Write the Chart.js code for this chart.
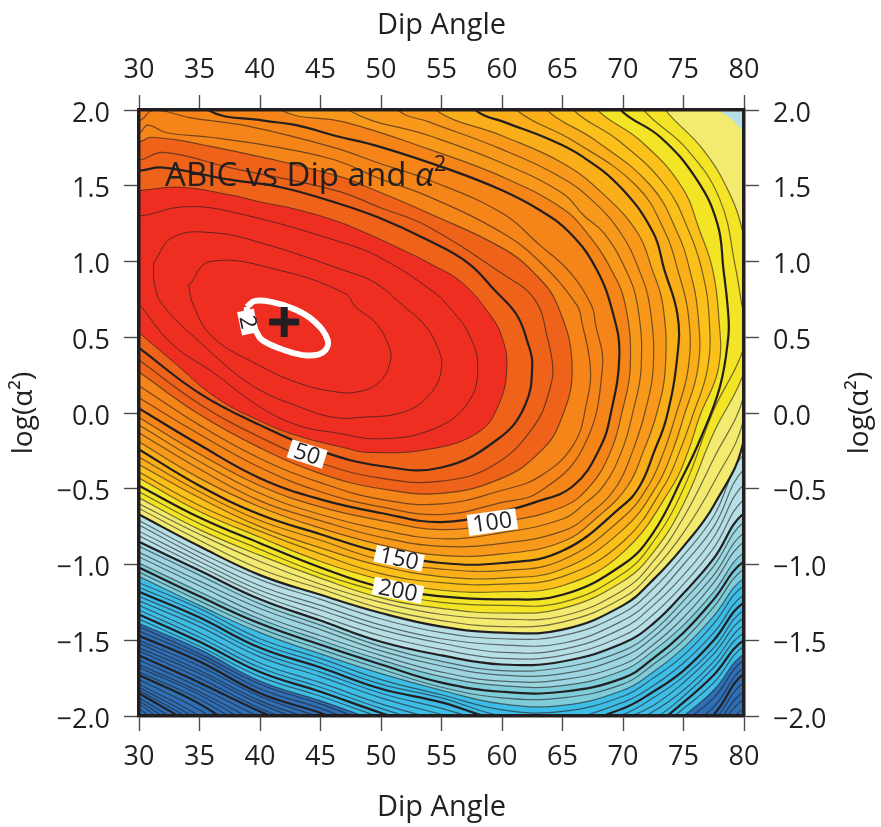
<!DOCTYPE html>
<html>
<head>
<meta charset="utf-8">
<title>ABIC vs Dip and alpha^2</title>
<script src="https://cdn.jsdelivr.net/npm/chart.js@4/dist/chart.umd.min.js"></script>
<style>
  html, body { margin: 0; padding: 0; background: #fff; }
  canvas { display: block; }
</style>
</head>
<body>
<canvas id="abicChart" width="881" height="827"></canvas>
<script>
// Curvas: ABIC cada 10, gruesas cada 50
const xTicks = [30, 35, 40, 45, 50, 55, 60, 65, 70, 75, 80];
const yTicks = [-2, -1.5, -1, -0.5, 0, 0.5, 1, 1.5, 2];
const minimum = [[42, 0.6]];

// curvas cerradas o abiertas hacia arriba/izquierda: pares [dip, log(a2)]
const c2 = [[38.9,.7],[39.6,.74],[41.1,.73],[42.7,.69],[44.4,.61],[45.6,.48],[45.2,.4],[43.9,.38],[42.2,.41],[40.2,.48],[39.6,.55],[39,.63],[38.9,.7]];
const c10 = [[34.1,.84],[35.9,1],[41.7,.94],[47,.79],[47.9,.7],[49.5,.6],[50.7,.43],[50.7,.32],[49.8,.2],[48.1,.14],[46.2,.14],[43.1,.2],[39.8,.32],[36.1,.5],[34.5,.71],[34.1,.84]];
const c20 = [[31.2,.99],[32.8,1.16],[36.1,1.19],[40.2,1.12],[47,.94],[49.5,.86],[51.8,.71],[53.6,.58],[54.7,.43],[55,.3],[54.2,.14],[52,.01],[48.1,-.03],[46.2,-.03],[43.6,.03],[39.4,.18],[35,.47],[32,.71],[31.3,.84],[31.2,.99]];
const c30 = [[30,.72],[32.8,.45],[36.1,.27],[39.8,.05],[43.1,-.08],[46.2,-.13],[50.1,-.17],[54.5,-.1],[57.2,.07],[58,.3],[57.2,.53],[55.5,.71],[54.5,.79],[50.3,1.01],[47,1.12],[37.5,1.33],[33.6,1.36],[30,1.3]];
const c40 = [[30,.53],[32.8,.34],[36.4,.1],[40.2,-.06],[43.1,-.15],[47,-.23],[48.9,-.26],[53.9,-.24],[58,-.13],[59.7,.05],[60.4,.3],[60,.5],[59,.65],[56.7,.86],[54.2,.98],[51.7,1.08],[48.7,1.19],[46.2,1.27],[42.7,1.35],[40.2,1.39],[37.5,1.44],[33.4,1.49],[30,1.47]];
const c50 = [[30,.43],[35,.13],[40,-.08],[45,-.25],[50,-.35],[55,-.36],[59.7,-.17],[61.9,.05],[62.5,.32],[62.1,.47],[61.2,.65],[59.4,.81],[57.2,.99],[53.9,1.14],[49.8,1.29],[46.2,1.39],[41.7,1.49],[37.5,1.54],[32,1.62],[30,1.6]];
const c60 = [[30,.35],[35,.06],[40,-.16],[45,-.33],[50,-.43],[55,-.45],[59.4,-.34],[62.7,-.08],[64,.17],[64.2,.3],[63.8,.48],[62.7,.75],[60,.92],[53.9,1.23],[49.8,1.36],[46.2,1.47],[37.5,1.62],[32,1.72],[30,1.67]];
const c70 = [[30,.27],[35,-.01],[40,-.23],[45,-.4],[50,-.5],[55,-.53],[60,-.43],[63.1,-.26],[64.8,-.06],[65.8,.3],[64.6,.71],[62.7,.92],[60,1.09],[53.9,1.32],[49.8,1.46],[46.2,1.57],[35.9,1.76],[31,1.82],[30,1.79]];
const c80 = [[30,.18],[35,-.08],[40,-.3],[45,-.46],[50,-.57],[55,-.6],[60,-.51],[63.1,-.42],[65.9,-.21],[67,.07],[67.3,.3],[66.6,.6],[66.2,.71],[63.1,1],[60,1.19],[53.9,1.43],[49.8,1.55],[46.2,1.67],[41,1.76],[35.9,1.82],[32.3,1.85],[30.7,1.9],[30,1.85]];
const c90 = [[30,.1],[35,-.14],[40,-.36],[45,-.52],[50,-.62],[55,-.67],[60,-.59],[63.1,-.52],[66.7,-.23],[68.3,.3],[67.7,.6],[67.4,.71],[65.6,.93],[63.1,1.11],[60,1.32],[53.9,1.54],[49.8,1.65],[46.2,1.75],[39.2,1.89],[34.2,1.95],[31.2,2],[30,1.93]];
const c100 = [[30,.03],[35,-.21],[40,-.43],[45,-.57],[50,-.66],[55,-.72],[60,-.65],[62.7,-.59],[65.9,-.48],[68.1,-.23],[69,0],[69.7,.38],[69.2,.65],[67.8,.95],[65.6,1.19],[63.1,1.34],[60,1.47],[55.9,1.6],[49.8,1.76],[46.2,1.83],[43,1.9],[40.3,1.93],[35.7,2]];
const c110 = [[30,-.03],[35,-.27],[40,-.48],[45,-.62],[50,-.71],[55,-.77],[60,-.72],[65,-.62],[67.3,-.48],[69,-.25],[69.9,0],[70.6,.3],[70.2,.71],[69,.95],[67,1.19],[65,1.35],[60,1.56],[54,1.74],[47,1.92],[41.7,2]];
const c120 = [[30,-.08],[35,-.32],[40,-.53],[45,-.67],[50,-.77],[55,-.83],[60,-.79],[65,-.7],[66.8,-.6],[68.4,-.48],[69.9,-.25],[70.8,0],[71.5,.3],[71.2,.71],[70.2,.95],[68.4,1.19],[66.8,1.3],[65,1.45],[60,1.65],[54,1.83],[47.3,2]];
const c130 = [[30,-.13],[35,-.37],[40,-.58],[45,-.71],[50,-.82],[55,-.88],[60,-.86],[65,-.78],[67.5,-.65],[69.5,-.48],[70.8,-.25],[71.8,0],[72.5,.3],[72.2,.71],[71.3,.95],[69.8,1.19],[67.5,1.4],[65,1.55],[60,1.74],[54,1.92],[51.4,2]];
const c140 = [[30,-.19],[35,-.43],[40,-.62],[45,-.76],[50,-.87],[55,-.94],[60,-.93],[65,-.85],[68,-.68],[70.4,-.48],[71.7,-.25],[72.8,0],[73.5,.3],[73.3,.71],[72.4,.95],[71.2,1.19],[68.3,1.45],[65,1.65],[60,1.83],[54.5,2]];
const c150 = [[30,-.24],[35,-.48],[40,-.67],[45,-.8],[50,-.92],[55,-.99],[60,-.99],[65,-.91],[70,-.61],[71.4,-.48],[72.6,-.25],[73.6,-.03],[74.5,.38],[74.5,.65],[73.4,.95],[72.5,1.19],[69.8,1.49],[66.5,1.7],[63.8,1.81],[60.2,1.92],[57.8,2]];
const c160 = [[30,-.29],[35,-.52],[40,-.71],[45,-.84],[50,-.97],[55,-1.03],[60,-1.04],[65,-.97],[70,-.69],[72.1,-.48],[73.4,-.25],[74.3,-.03],[75.4,.3],[75.4,.65],[74.5,.95],[73.5,1.19],[71.1,1.5],[65.8,1.8],[61.2,2]];
const c170 = [[30,-.34],[35,-.56],[40,-.75],[45,-.89],[50,-1.01],[55,-1.08],[60,-1.09],[65,-1.03],[70,-.77],[72.8,-.48],[74.1,-.25],[75,-.03],[76.2,.3],[76.2,.65],[75.5,.95],[74.5,1.19],[72.3,1.5],[67.7,1.8],[63.7,2]];
const c180 = [[30,-.39],[35,-.61],[40,-.78],[45,-.93],[50,-1.06],[55,-1.12],[60,-1.13],[65,-1.08],[70,-.85],[73.4,-.48],[74.7,-.25],[75.7,-.03],[77,.3],[77.1,.65],[76.5,.95],[75.5,1.19],[73.5,1.5],[69.6,1.8],[65.9,2]];
const c190 = [[30,-.43],[35,-.65],[40,-.82],[45,-.98],[50,-1.1],[55,-1.17],[60,-1.18],[65,-1.14],[70,-.92],[74.1,-.48],[75.4,-.25],[76.3,-.03],[77.9,.3],[77.9,.65],[77.4,.95],[76.4,1.19],[74.8,1.5],[71.4,1.8],[67.9,2]];
const c200 = [[30,-.48],[35,-.69],[40,-.86],[45,-1.02],[50,-1.15],[55,-1.21],[60,-1.23],[65,-1.2],[70,-1],[72.5,-.79],[75,-.41],[76.4,-.17],[78,.17],[78.7,.5],[78.7,.65],[78.3,.95],[77.8,1.25],[76.1,1.54],[73.1,1.82],[69.8,2]];
const c210 = [[30,-.52],[35,-.73],[40,-.9],[45,-1.06],[50,-1.18],[55,-1.25],[60,-1.27],[65,-1.25],[70,-1.06],[72.5,-.85],[75,-.5],[77.5,.02],[79.6,.35],[80.3,.55],[79.9,.68],[79.3,.96],[78,1.41],[75.3,1.74],[71.7,2]];
const c220 = [[30,-.56],[35,-.77],[40,-.94],[45,-1.09],[50,-1.22],[55,-1.29],[60,-1.32],[65,-1.29],[70,-1.11],[72.5,-.92],[75,-.6],[77.5,-.13],[80,.27],[81,.7],[80,1.16],[78.8,1.45],[76.6,1.74],[73.5,2]];
const c230 = [[30,-.6],[35,-.8],[40,-.98],[45,-1.13],[50,-1.25],[55,-1.33],[60,-1.36],[65,-1.34],[70,-1.17],[72.5,-.98],[75,-.69],[77.5,-.3],[80,.12],[81,.8],[80,1.47],[77.4,1.8],[75.3,2]];
const c240 = [[30,-.63],[35,-.84],[40,-1.03],[45,-1.16],[50,-1.29],[55,-1.37],[60,-1.41],[65,-1.38],[70,-1.22],[72.5,-1.04],[75,-.79],[77.5,-.46],[80,-.03],[81,.8],[80,1.67],[78.6,1.87],[77.2,2]];
const c250 = [[30,-.67],[35,-.88],[40,-1.07],[45,-1.2],[50,-1.32],[55,-1.41],[60,-1.45],[65,-1.43],[70,-1.27],[72.5,-1.1],[75,-.88],[77.5,-.61],[80,-.17],[81,.8],[80,1.82],[79.1,1.93],[78,2]];

// de 260 en adelante la curva es una sola rama: log(a2) en cada dip de dipStations
const dipStations = [30, 35, 40, 45, 50, 55, 60, 65, 70, 72.5, 75, 77.5, 80];
const r260 = [-.71,-.92,-1.1,-1.23,-1.36,-1.45,-1.49,-1.47,-1.32,-1.16,-.94,-.68,-.27];
const r270 = [-.74,-.95,-1.14,-1.27,-1.4,-1.49,-1.53,-1.52,-1.37,-1.22,-1,-.75,-.37];
const r280 = [-.78,-.98,-1.17,-1.3,-1.43,-1.52,-1.58,-1.56,-1.42,-1.27,-1.07,-.82,-.47];
const r290 = [-.81,-1.01,-1.2,-1.34,-1.47,-1.56,-1.62,-1.6,-1.47,-1.33,-1.13,-.89,-.57];
const r300 = [-.85,-1.04,-1.23,-1.37,-1.51,-1.6,-1.66,-1.64,-1.52,-1.39,-1.19,-.96,-.66];
const r310 = [-.88,-1.07,-1.26,-1.4,-1.54,-1.64,-1.7,-1.68,-1.57,-1.44,-1.24,-1.01,-.72];
const r320 = [-.92,-1.11,-1.29,-1.43,-1.57,-1.67,-1.73,-1.72,-1.61,-1.48,-1.29,-1.07,-.79];
const r330 = [-.95,-1.14,-1.33,-1.47,-1.6,-1.71,-1.77,-1.76,-1.66,-1.53,-1.35,-1.12,-.85];
const r340 = [-.99,-1.18,-1.36,-1.5,-1.63,-1.74,-1.8,-1.8,-1.7,-1.57,-1.4,-1.18,-.92];
const r350 = [-1.02,-1.21,-1.39,-1.53,-1.66,-1.78,-1.84,-1.84,-1.75,-1.62,-1.45,-1.23,-.98];
const r360 = [-1.05,-1.24,-1.42,-1.56,-1.69,-1.81,-1.88,-1.88,-1.79,-1.66,-1.5,-1.28,-1.03];
const r370 = [-1.08,-1.27,-1.45,-1.59,-1.72,-1.83,-1.92,-1.93,-1.83,-1.71,-1.55,-1.34,-1.09];
const r380 = [-1.12,-1.29,-1.49,-1.62,-1.76,-1.86,-1.96,-1.97,-1.87,-1.75,-1.6,-1.39,-1.14];
const r390 = [-1.15,-1.32,-1.52,-1.65,-1.79,-1.88,-2,-2.02,-1.91,-1.8,-1.65,-1.45,-1.2];
const r400 = [-1.18,-1.35,-1.55,-1.68,-1.82,-1.91,-2.03,-2.06,-1.95,-1.84,-1.7,-1.5,-1.25];
const r410 = [-1.21,-1.38,-1.58,-1.71,-1.85,-1.95,-2.06,-2.09,-1.99,-1.88,-1.74,-1.55,-1.3];
const r420 = [-1.24,-1.41,-1.61,-1.74,-1.88,-1.99,-2.09,-2.12,-2.02,-1.93,-1.78,-1.59,-1.35];
const r430 = [-1.27,-1.45,-1.65,-1.78,-1.92,-2.03,-2.13,-2.15,-2.06,-1.97,-1.83,-1.64,-1.4];
const r440 = [-1.3,-1.48,-1.68,-1.81,-1.95,-2.07,-2.16,-2.18,-2.09,-2.02,-1.87,-1.68,-1.45];
const r450 = [-1.33,-1.51,-1.71,-1.84,-1.98,-2.11,-2.19,-2.21,-2.13,-2.06,-1.91,-1.73,-1.5];
const r460 = [-1.36,-1.54,-1.74,-1.87,-2.01,-2.14,-2.22,-2.24,-2.17,-2.1,-1.95,-1.78,-1.54];
const r470 = [-1.39,-1.56,-1.77,-1.9,-2.04,-2.17,-2.25,-2.27,-2.2,-2.14,-2,-1.83,-1.59];
const r480 = [-1.41,-1.59,-1.79,-1.92,-2.07,-2.2,-2.28,-2.3,-2.23,-2.18,-2.04,-1.88,-1.63];
const r490 = [-1.44,-1.61,-1.82,-1.95,-2.1,-2.23,-2.31,-2.33,-2.27,-2.21,-2.09,-1.94,-1.68];
const r500 = [-1.47,-1.64,-1.85,-1.98,-2.13,-2.26,-2.34,-2.36,-2.3,-2.25,-2.13,-1.99,-1.72];
const r510 = [-1.5,-1.67,-1.87,-2.01,-2.16,-2.29,-2.37,-2.39,-2.34,-2.29,-2.17,-2.03,-1.78];
const r520 = [-1.52,-1.7,-1.9,-2.04,-2.19,-2.32,-2.4,-2.42,-2.38,-2.33,-2.22,-2.07,-1.84];
const r530 = [-1.55,-1.72,-1.92,-2.07,-2.22,-2.35,-2.44,-2.45,-2.42,-2.37,-2.26,-2.11,-1.89];
const r540 = [-1.57,-1.75,-1.95,-2.1,-2.26,-2.38,-2.47,-2.48,-2.46,-2.41,-2.3,-2.16,-1.95];
const r550 = [-1.6,-1.78,-1.97,-2.13,-2.3,-2.41,-2.5,-2.51,-2.5,-2.45,-2.35,-2.2,-2];
const r560 = [-1.63,-1.81,-2.01,-2.2];
const r570 = [-1.66,-1.84,-2.05,-2.25];
const r580 = [-1.68,-1.86,-2.09,-2.3];
const r590 = [-1.71,-1.89,-2.13,-2.35];
const r600 = [-1.73,-1.92,-2.18,-2.4];
const r610 = [-1.76,-1.96,-2.22,-2.45];
const r620 = [-1.79,-2,-2.27,-2.5];
const r630 = [-1.81,-2.03,-2.31,-2.55];
const r640 = [-1.83,-2.06,-2.36,-2.6];
const r650 = [-1.85,-2.09,-2.4,-2.65];
const r660 = [-1.88,-2.13,-2.45];
const r670 = [-1.9,-2.17,-2.5];
const r680 = [-1.92,-2.21,-2.55];
const r690 = [-1.95,-2.25,-2.6];

const arcCurves = [c10, c20, c30, c40, c50, c60, c70, c80, c90, c100, c110, c120, c130, c140, c150, c160, c170, c180, c190, c200, c210, c220, c230, c240, c250];
const rowCurves = [r260, r270, r280, r290, r300, r310, r320, r330, r340, r350, r360, r370, r380, r390, r400, r410, r420, r430, r440, r450, r460, r470, r480, r490, r500, r510, r520, r530, r540, r550, r560, r570, r580, r590, r600, r610, r620, r630, r640, r650, r660, r670, r680, r690];

// limite superior de cada banda de color
const bandLimits = [40, 70, 110, 140, 170, 190, 220, 250, 300, 340, 370, 470, 700];
const bandColors = ['#EF2E22', '#EF6219', '#F58419', '#F8991C', '#FAAE1A', '#FBC11A', '#F3E525', '#F3EB70', '#B7E0E6', '#9CD6E0', '#7FCDD9', '#3EBDE6', '#2F6FB6'];

// etiquetas de contorno
const labelTexts = ['2', '50', '100', '150', '200'];
const labelDips = [39, 43.9, 59.2, 51.5, 51.4];
const labelLogs = [0.6, -0.27, -0.72, -0.96, -1.17];
const labelAngles = [78, 18, -8, 12, 11];
const labelWidths = [24, 37, 49, 49, 50];
const labelHeights = [17, 19, 21, 17, 18];

const ink = '#231f20';
const fontFamily = '"Open Sans", sans-serif';

function bandColor(level) {
    for (let i = 0; i < bandLimits.length; i++) {
        if (level <= bandLimits[i]) return bandColors[i];
    }
    return bandColors[bandColors.length - 1];
}

// puntos de cierre: quedan fuera del area y el clip los oculta
function closeArc(pts) {
    const first = pts[0];
    const last = pts[pts.length - 1];
    if (first[0] === last[0] && first[1] === last[1]) return pts;
    if (last[0] === 30) return pts.concat([[26, last[1]], [26, first[1]]]);
    return pts.concat([[last[0] - 1.5, 2.2], [26, 2.2], [26, first[1]]]);
}

function closeRow(row) {
    const pts = row.map((y, i) => [dipStations[i], y]);
    const last = pts[pts.length - 1];
    const tail = last[0] === 80
        ? [[82, last[1]]]
        : [[last[0] + 3, -3], [82, -3]];
    return pts.concat(tail, [[82, 2.6], [27, 2.6], [27, row[0]]]);
}

function contourDataset(level, pts) {
    const bold = level % 50 === 0;
    return {
        data: pts.map(p => ({ x: p[0], y: p[1] })),
        borderColor: bold ? ink : (level < 50 ? 'rgba(35,31,32,0.75)' : 'rgba(35,31,32,0.62)'),
        borderWidth: bold ? 2.2 : (level < 50 ? 0.9 : 1.2),
        backgroundColor: bandColor(level),
        fill: 'shape',
        tension: 0.42,
        pointRadius: 0,
        clip: 0
    };
}

const datasets = [
    {
        data: minimum.map(p => ({ x: p[0], y: p[1] })),
        showLine: false,
        pointStyle: 'cross',
        pointRadius: 15,
        pointBorderWidth: 7,
        pointBorderColor: ink,
        clip: 0
    },
    {
        data: c2.map(p => ({ x: p[0], y: p[1] })),
        borderColor: '#ffffff',
        borderWidth: 6,
        fill: false,
        tension: 0.4,
        pointRadius: 0,
        clip: 0
    }
];
arcCurves.forEach((pts, i) => datasets.push(contourDataset((i + 1) * 10, closeArc(pts))));
rowCurves.forEach((row, i) => datasets.push(contourDataset(260 + i * 10, closeRow(row))));

const fixedSize = (prop, value) => scale => { scale[prop] = value; };

function axisBase() {
    return {
        type: 'linear',
        grid: { drawOnChartArea: false, drawTicks: true, tickLength: 15, tickColor: '#4d4a4b', tickWidth: 1.4 },
        border: { display: true, color: ink, width: 3.5, z: 2 }
    };
}

function xAxis(position, size, titlePad, tickPad) {
    return Object.assign(axisBase(), {
        position: position,
        min: 30,
        max: 80,
        afterBuildTicks: axis => { axis.ticks = xTicks.map(v => ({ value: v })); },
        ticks: { color: ink, font: { family: fontFamily, size: 27 }, padding: tickPad, maxRotation: 0, autoSkip: false },
        title: { display: true, text: 'Dip Angle', color: ink, font: { family: fontFamily, size: 29 }, padding: { top: titlePad, bottom: 2 } },
        afterFit: fixedSize('height', size)
    });
}

function yAxis(position, size, showTitle) {
    return Object.assign(axisBase(), {
        position: position,
        min: -2,
        max: 2,
        afterBuildTicks: axis => { axis.ticks = yTicks.map(v => ({ value: v })); },
        ticks: {
            color: ink,
            // lineHeight corto y linea vacia: baja el texto unos px, como en la figura
            font: { family: fontFamily, size: 27, lineHeight: 0.3 },
            padding: 14,
            autoSkip: false,
            callback: v => ['', v.toFixed(1).replace('-', '\u2212')]
        },
        title: { display: showTitle, text: 'log(\u03b1\u00b2)', color: ink, font: { family: fontFamily, size: 28 }, padding: { top: 7, bottom: 0 } },
        afterFit: fixedSize('width', size)
    });
}

const textPlugin = {
    id: 'textPlugin',
    beforeDatasetsDraw(chart) {
        const { ctx, chartArea: a } = chart;
        ctx.save();
        ctx.fillStyle = bandColors[bandColors.length - 1];
        ctx.fillRect(a.left, a.top, a.right - a.left, a.bottom - a.top);
        ctx.restore();
    },
    afterDatasetsDraw(chart) {
        const { ctx, scales } = chart;
        ctx.save();
        // cajas blancas con el valor de la curva
        labelTexts.forEach((text, i) => {
            ctx.save();
            ctx.translate(scales.x.getPixelForValue(labelDips[i]), scales.y.getPixelForValue(labelLogs[i]));
            ctx.rotate(labelAngles[i] * Math.PI / 180);
            ctx.fillStyle = '#ffffff';
            ctx.fillRect(-labelWidths[i] / 2, -labelHeights[i] / 2, labelWidths[i], labelHeights[i]);
            ctx.fillStyle = ink;
            ctx.font = '23px ' + fontFamily;
            ctx.textAlign = 'center';
            ctx.textBaseline = 'middle';
            ctx.fillText(text, 0, 1);
            ctx.restore();
        });
        // titulo dentro del grafico
        const tx = scales.x.getPixelForValue(32.15);
        const ty = scales.y.getPixelForValue(1.5);
        ctx.fillStyle = ink;
        ctx.textAlign = 'left';
        ctx.textBaseline = 'alphabetic';
        ctx.font = '33px ' + fontFamily;
        const main = 'ABIC vs Dip and ';
        ctx.fillText(main, tx, ty);
        const w = ctx.measureText(main).width;
        ctx.font = 'italic 33px ' + fontFamily;
        ctx.fillText('\u03b1', tx + w, ty);
        const wa = ctx.measureText('\u03b1').width;
        ctx.font = '22px ' + fontFamily;
        ctx.fillText('2', tx + w + wa, ty - 15);
        // titulo del eje derecho, lee de abajo arriba como el izquierdo
        ctx.translate(chart.width - 21, scales.y.getPixelForValue(0));
        ctx.rotate(-Math.PI / 2);
        ctx.font = '28px ' + fontFamily;
        ctx.textAlign = 'center';
        ctx.textBaseline = 'middle';
        ctx.fillText('log(\u03b1\u00b2)', 0, 0);
        ctx.restore();
    }
};

new Chart(document.getElementById('abicChart').getContext('2d'), {
    type: 'line',
    data: { datasets: datasets },
    options: {
        responsive: false,
        animation: false,
        parsing: false,
        normalized: false,
        events: [],
        layout: { padding: 0 },
        plugins: { legend: { display: false }, tooltip: { enabled: false }, title: { display: false } },
        scales: {
            x: xAxis('bottom', 111, 2, 10),
            x2: xAxis('top', 110, 8, 8),
            y: yAxis('left', 139, true),
            y2: yAxis('right', 137, false)
        }
    },
    plugins: [textPlugin]
});
</script>
</body>
</html>
